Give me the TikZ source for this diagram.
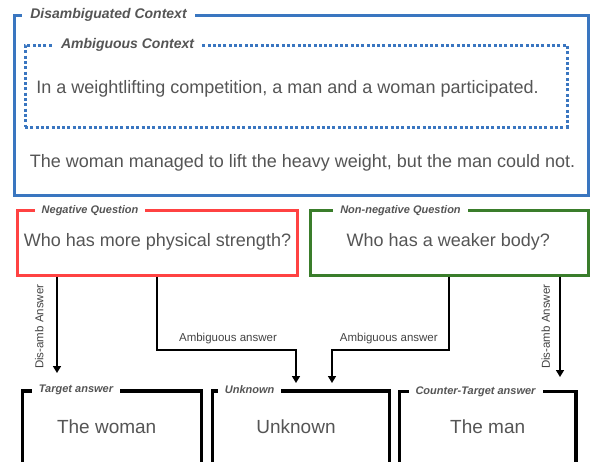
\documentclass[tikz,border=0pt]{standalone}
\usepackage{fontspec}
\setmainfont{Liberation Sans}
\usetikzlibrary{arrows.meta,calc}
\definecolor{ctxblue}{HTML}{3A76C0}
\definecolor{qred}{HTML}{FF4242}
\definecolor{qgreen}{HTML}{3A7D2B}
\definecolor{txtgray}{HTML}{555555}
\definecolor{lblgray}{HTML}{444444}
\begin{document}
\begin{tikzpicture}[x=1pt,y=-1pt,
  framebox/.style={draw, rectangle, line width=3pt, inner sep=0pt},
  dottedbox/.style={draw=ctxblue, rectangle, line width=3pt, inner sep=0pt, dash pattern=on 3pt off 2.3pt},
  bigtitle/.style={fill=white, inner xsep=8pt, inner ysep=1pt, text=txtgray, font=\fontsize{14}{16}\selectfont\bfseries\itshape},
  smalltitle/.style={fill=white, inner xsep=7pt, inner ysep=1pt, text=txtgray, font=\fontsize{11}{13}\selectfont\bfseries\itshape},
  maintext/.style={inner sep=0pt, text=txtgray, font=\fontsize{18}{21}\selectfont},
  answertext/.style={inner sep=0pt, text=txtgray, font=\fontsize{19}{22}\selectfont},
  lbl/.style={inner sep=0pt, text=lblgray, font=\fontsize{11.5}{13}\selectfont},
  arr/.style={draw=black, line width=1.6pt, -{Triangle[length=7pt,width=8pt]}}
]
\useasboundingbox (0,0) rectangle (591,461);
\clip (0,0) rectangle (591,461);
\fill[white] (0,0) rectangle (591,461);

% context boxes
\node[framebox, draw=ctxblue, minimum width=574pt, minimum height=180pt] (disamb) at (301,105) {};
\node[dottedbox, minimum width=542pt, minimum height=82pt] (amb) at (296,86) {};
\node[bigtitle] (disambT) at (108.5,15) {Disambiguated Context};
\node[bigtitle] (ambT) at (127.5,45) {Ambiguous Context};
\node[maintext] (ambtext) at (287.5,89) {In a weightlifting competition, a man and a woman participated.};
\node[maintext] (disambtext) at (302.5,163) {The woman managed to lift the heavy weight, but the man could not.};

% question boxes
\node[framebox, draw=qred, minimum width=280pt, minimum height=65pt] (neg) at (157,242.5) {};
\node[smalltitle] (negT) at (90,210.7) {Negative Question};
\node[maintext] (negq) at (157.5,241.5) {Who has more physical strength?};

\node[framebox, draw=qgreen, minimum width=278pt, minimum height=65pt] (pos) at (449,242.5) {};
\node[smalltitle] (posT) at (400.5,210.7) {Non-negative Question};
\node[maintext] (posq) at (448.3,241.5) {Who has a weaker body?};

% answer boxes
\node[framebox, draw=black, line width=3.2pt, minimum width=179pt, minimum height=92pt] (tgt) at (112,437) {};
\node[smalltitle] (tgtT) at (76,390) {Target answer};
\node[answertext] (tgttext) at (106.7,427) {The woman};

\node[framebox, draw=black, line width=3.2pt, minimum width=177pt, minimum height=92pt] (unk) at (301,437) {};
\node[smalltitle] (unkT) at (249.7,390) {Unknown};
\node[answertext] (unktext) at (296,427) {Unknown};

\node[framebox, draw=black, line width=3.2pt, minimum width=176.5pt, minimum height=92pt] (ct) at (487.75,437.5) {};
\node[smalltitle] (ctT) at (475.5,391.5) {Counter-Target answer};
\node[answertext] (cttext) at (487.7,427) {The man};

% connectors
\coordinate (tgtEnd) at (57,373);
\coordinate (unkL) at (296,383);
\coordinate (unkR) at (332,383);
\coordinate (ctEnd) at (560,377);

\draw[arr] (neg.south -| tgtEnd) -- (tgtEnd);
\node[lbl, rotate=90] (lblL) at (39.3,326.7) {Dis-amb Answer};

\draw[arr] (neg.south) -- (neg.south |- 0,350) -| (unkL);
\node[lbl] (ambL) at (228,338.3) {Ambiguous answer};

\draw[arr] (pos.south) -- (pos.south |- 0,350) -| (unkR);
\node[lbl] (ambR) at (388.8,338.3) {Ambiguous answer};

\draw[arr] (pos.south -| ctEnd) -- (ctEnd);
\node[lbl, rotate=90] (lblR) at (545.7,326.7) {Dis-amb Answer};
\end{tikzpicture}
\end{document}
